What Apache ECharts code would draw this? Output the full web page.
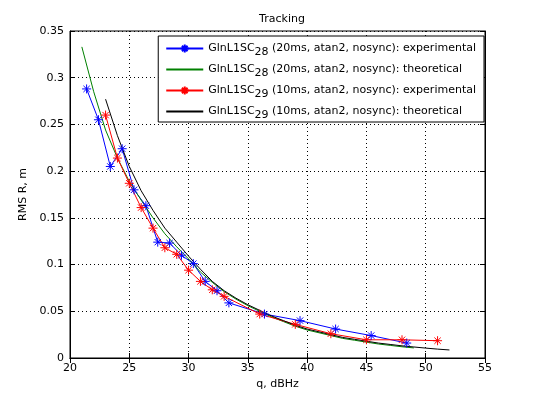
<!DOCTYPE html>
<html>
<head>
<meta charset="utf-8">
<script src="https://cdn.jsdelivr.net/npm/echarts@6/dist/echarts.min.js"></script>
<style>
html, body { margin: 0; padding: 0; background: #fff; }
#container { width: 536px; height: 402px; }
</style>
</head>
<body>
<div id="container"></div>
<script>
// experimental points, q in dBHz / RMS in m
var blueX = [21.4, 22.4, 23.4, 24.4, 25.4, 26.4, 27.4, 28.4, 29.4, 30.4, 31.4, 32.4, 33.4, 36.4, 39.4, 42.4, 45.4, 48.4];
var blueY = [0.288, 0.255, 0.205, 0.224, 0.180, 0.163, 0.124, 0.123, 0.110, 0.101, 0.082, 0.072, 0.059, 0.047, 0.040, 0.031, 0.024, 0.016];
var redX = [23, 24, 25, 26, 27, 28, 29, 30, 31, 32, 33, 36, 39, 42, 45, 48, 51];
var redY = [0.260, 0.214, 0.187, 0.161, 0.139, 0.118, 0.111, 0.094, 0.082, 0.073, 0.066, 0.047, 0.036, 0.026, 0.0195, 0.0195, 0.0185];

// theoretical curves
var greenX = [21, 22, 23, 24, 25, 26, 27, 28, 29, 30, 31, 32, 33, 34, 35, 36, 37, 38, 39, 40, 41, 42, 43, 44, 45, 46, 47, 48, 49];
var greenY = [0.333, 0.285, 0.244, 0.214, 0.189, 0.169, 0.150, 0.133, 0.119, 0.106, 0.092, 0.081, 0.071, 0.063, 0.056, 0.050, 0.044, 0.039, 0.034, 0.030, 0.027, 0.024, 0.021, 0.019, 0.017, 0.015, 0.0135, 0.012, 0.0108];
var blackX = [23, 24, 25, 26, 27, 28, 29, 30, 31, 32, 33, 34, 35, 36, 37, 38, 39, 40, 41, 42, 43, 44, 45, 46, 47, 48, 49, 50, 51, 52];
var blackY = [0.277, 0.238, 0.205, 0.179, 0.158, 0.139, 0.124, 0.109, 0.095, 0.082, 0.072, 0.064, 0.057, 0.051, 0.045, 0.040, 0.035, 0.031, 0.028, 0.025, 0.022, 0.020, 0.018, 0.016, 0.0145, 0.013, 0.0118, 0.0106, 0.0095, 0.0086];

var names = [
    'GlnL1SC28 (20ms, atan2, nosync): experimental',
    'GlnL1SC28 (20ms, atan2, nosync): theoretical',
    'GlnL1SC29 (10ms, atan2, nosync): experimental',
    'GlnL1SC29 (10ms, atan2, nosync): theoretical'
];

var FONT = 'DejaVu Sans';
var star = 'path://M5,0L5,10M0,5L10,5M1.5,1.5L8.5,8.5M1.5,8.5L8.5,1.5';

function pairs(xs, ys) {
    return xs.map(function (x, i) { return [x, ys[i]]; });
}

function lineSeries(name, xs, ys, color, marker) {
    return {
        name: name,
        type: 'line',
        data: pairs(xs, ys),
        symbol: marker ? star : 'none',
        symbolSize: 9,
        showSymbol: !!marker,
        lineStyle: { color: color, width: 1 },
        itemStyle: { color: color, borderColor: color, borderWidth: 1 },
        emphasis: { disabled: true },
        animation: false
    };
}

var container = document.getElementById('container');
var chart = echarts.init(container);

chart.setOption({
    backgroundColor: '#fff',
    title: {
        text: 'Tracking',
        left: 277, top: 9, textAlign: 'center',
        textStyle: { fontFamily: FONT, fontSize: 11, fontWeight: 'normal', color: '#000' }
    },
    grid: { left: 70, right: 51, top: 31, bottom: 44, show: true, borderColor: '#000', borderWidth: 1 },
    legend: {
        orient: 'vertical',
        right: 52, top: 36,
        backgroundColor: '#fff',
        borderColor: '#000', borderWidth: 1,
        padding: [7, 8, 1, 7],
        itemWidth: 37, itemHeight: 10, itemGap: 6,
        data: [
            { name: names[0] },
            { name: names[1], itemStyle: { opacity: 0 } },
            { name: names[2] },
            { name: names[3], itemStyle: { opacity: 0 } }
        ],
        formatter: function (n) {
            var sub = n.substr(7, 2);
            return '{a|GlnL1SC}{s|' + sub + '}{a|' + n.substr(9) + '}';
        },
        textStyle: {
            fontFamily: FONT, fontSize: 11, color: '#000',
            rich: {
                a: { fontFamily: FONT, fontSize: 11, color: '#000' },
                s: { fontFamily: FONT, fontSize: 11, color: '#000', padding: [8, 0, 0, 0] }
            }
        }
    },
    xAxis: [{
        type: 'value', min: 20, max: 55, interval: 5,
        name: 'q, dBHz', nameLocation: 'middle', nameGap: 20,
        nameTextStyle: { fontFamily: FONT, fontSize: 11, color: '#000' },
        axisLine: { lineStyle: { color: '#000' } },
        axisTick: { inside: true, length: 5, lineStyle: { color: '#000' } },
        axisLabel: { fontFamily: FONT, fontSize: 11, color: '#000', margin: 5 },
        splitLine: { show: true, lineStyle: { color: '#000', type: [1, 3], width: 1 } }
    }, {
        type: 'value', min: 20, max: 55, interval: 5, position: 'top',
        axisLine: { lineStyle: { color: '#000' } },
        axisTick: { inside: true, length: 5, lineStyle: { color: '#000' } },
        axisLabel: { show: false },
        splitLine: { show: false }
    }],
    yAxis: [{
        type: 'value', min: 0, max: 0.35, interval: 0.05,
        name: 'RMS R, m', nameLocation: 'middle', nameGap: 34,
        nameTextStyle: { fontFamily: FONT, fontSize: 11, color: '#000' },
        axisLine: { show: true, lineStyle: { color: '#000' } },
        axisTick: { show: true, inside: true, length: 5, lineStyle: { color: '#000' } },
        axisLabel: { fontFamily: FONT, fontSize: 11, color: '#000', margin: 6 },
        splitLine: { show: true, lineStyle: { color: '#000', type: [1, 3], width: 1 } }
    }, {
        type: 'value', min: 0, max: 0.35, interval: 0.05, position: 'right',
        axisLine: { show: true, lineStyle: { color: '#000' } },
        axisTick: { show: true, inside: true, length: 5, lineStyle: { color: '#000' } },
        axisLabel: { show: false },
        splitLine: { show: false }
    }],
    series: [
        lineSeries(names[0], blueX, blueY, '#0000ff', true),
        lineSeries(names[1], greenX, greenY, '#008000', false),
        lineSeries(names[2], redX, redY, '#ff0000', true),
        lineSeries(names[3], blackX, blackY, '#000000', false)
    ]
});
</script>
</body>
</html>
